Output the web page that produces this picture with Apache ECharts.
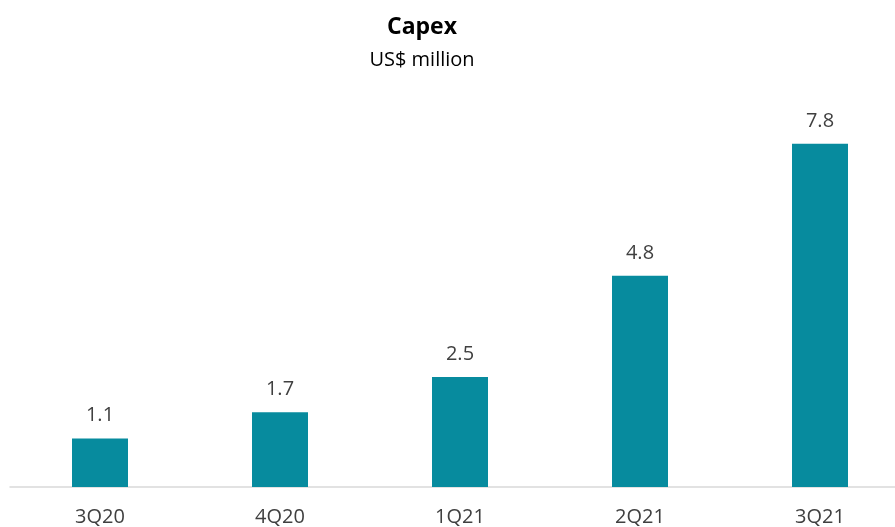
<!DOCTYPE html>
<html>
<head>
<meta charset="utf-8">
<script src="https://cdn.jsdelivr.net/npm/echarts@6/dist/echarts.min.js"></script>
<style>
  html, body { margin: 0; padding: 0; background: #ffffff; }
  #chart { width: 895px; height: 527px; }
</style>
</head>
<body>
<div id="chart"></div>
<script>
// Quarterly capital expenditure, US$ million
const quarters = ['3Q20', '4Q20', '1Q21', '2Q21', '3Q21'];
const capex = [1.1, 1.7, 2.5, 4.8, 7.8];

const FONT = '"Open Sans", "Noto Sans", sans-serif';
const chart = echarts.init(document.getElementById('chart'));

chart.setOption({
  animation: false,
  title: {
    text: 'Capex',
    subtext: 'US$ million',
    left: 417,
    textAlign: 'center',
    top: 11,
    itemGap: 11,
    textStyle: { fontFamily: FONT, fontSize: 23, fontWeight: 'bold', color: '#000000' },
    subtextStyle: { fontFamily: FONT, fontSize: 20, color: '#000000' }
  },
  // plot area is slightly wider than the canvas, so the last band runs past the right edge
  grid: { left: 10, width: 900, top: 91, bottom: 40, containLabel: false, outerBoundsMode: 'none' },
  xAxis: {
    type: 'category',
    data: quarters,
    axisLine: { show: true, lineStyle: { color: '#d9d9d9', width: 1.5 } },
    axisTick: { show: false },
    axisLabel: { fontFamily: FONT, fontSize: 20, color: '#404040', margin: 20 }
  },
  yAxis: {
    type: 'value',
    min: 0,
    max: 9,
    show: false,
    splitLine: { show: false }
  },
  series: [{
    type: 'bar',
    data: capex,
    barWidth: 56,
    itemStyle: { color: '#078b9e' },
    label: {
      show: true,
      position: 'top',
      distance: 13,
      fontFamily: FONT,
      fontSize: 20,
      color: '#404040',
      formatter: p => p.value.toFixed(1)
    }
  }]
});
</script>
</body>
</html>
